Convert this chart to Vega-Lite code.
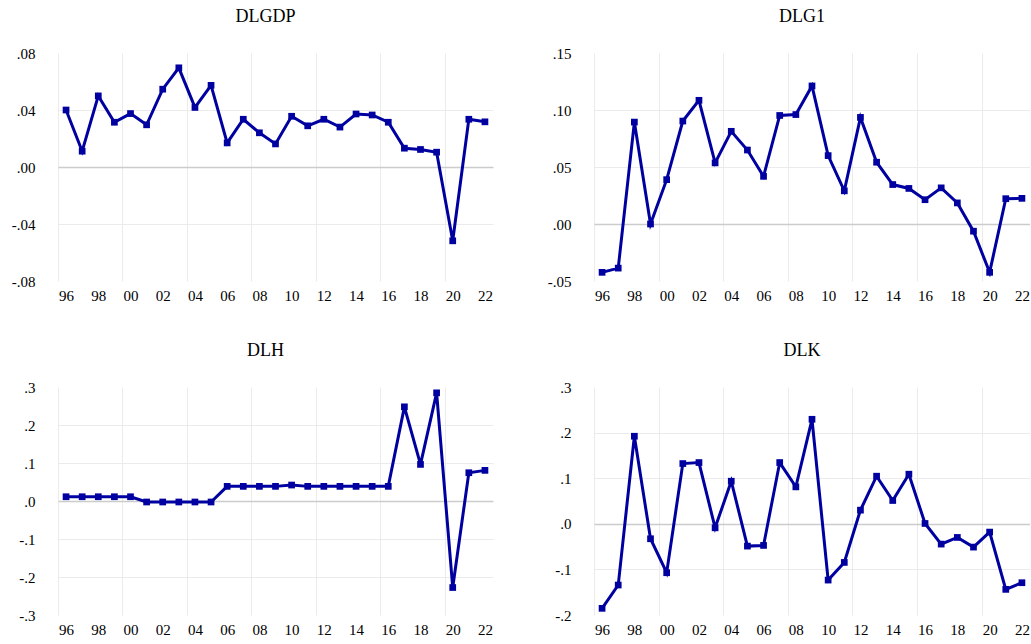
{
  "$schema": "https://vega.github.io/schema/vega-lite/v6.json",
  "padding": {"left": 10, "top": 8, "right": 0, "bottom": 0},
  "background": "white",
  "columns": 2,
  "spacing": {"row": 39, "column": 53},
  "config": {
    "view": {"stroke": null},
    "font": "Liberation Serif",
    "title": {"font": "Liberation Serif", "fontSize": 18, "fontWeight": "normal", "color": "black", "baseline": "alphabetic", "offset": 20, "frame": "group", "anchor": "middle", "dx": -10},
    "axis": {"ticks": false, "domain": false, "labelFont": "Liberation Serif", "labelFontSize": 15, "labelColor": "black", "title": null, "gridWidth": 1},
    "axisY": {"labelPadding": 23, "minExtent": 48, "maxExtent": 48},
    "axisX": {"labelPadding": 7}
  },
  "datasets": {
    "d": [
      {"year": 1996, "DLGDP": 0.0400, "DLG1": -0.0424, "DLH": 0.0112, "DLK": -0.1854},
      {"year": 1997, "DLGDP": 0.0111, "DLG1": -0.0387, "DLH": 0.0112, "DLK": -0.1343},
      {"year": 1998, "DLGDP": 0.0499, "DLG1": 0.0894, "DLH": 0.0112, "DLK": 0.1920},
      {"year": 1999, "DLGDP": 0.0314, "DLG1": 0.0000, "DLH": 0.0112, "DLK": -0.0328},
      {"year": 2000, "DLGDP": 0.0375, "DLG1": 0.0389, "DLH": 0.0112, "DLK": -0.1073},
      {"year": 2001, "DLGDP": 0.0296, "DLG1": 0.0903, "DLH": -0.0026, "DLK": 0.1321},
      {"year": 2002, "DLGDP": 0.0546, "DLG1": 0.1085, "DLH": -0.0026, "DLK": 0.1343},
      {"year": 2003, "DLGDP": 0.0696, "DLG1": 0.0536, "DLH": -0.0026, "DLK": -0.0088},
      {"year": 2004, "DLGDP": 0.0418, "DLG1": 0.0813, "DLH": -0.0026, "DLK": 0.0934},
      {"year": 2005, "DLGDP": 0.0573, "DLG1": 0.0649, "DLH": -0.0026, "DLK": -0.0489},
      {"year": 2006, "DLGDP": 0.0169, "DLG1": 0.0418, "DLH": 0.0385, "DLK": -0.0474},
      {"year": 2007, "DLGDP": 0.0335, "DLG1": 0.0952, "DLH": 0.0385, "DLK": 0.1343},
      {"year": 2008, "DLGDP": 0.0240, "DLG1": 0.0960, "DLH": 0.0385, "DLK": 0.0810},
      {"year": 2009, "DLGDP": 0.0162, "DLG1": 0.1211, "DLH": 0.0385, "DLK": 0.2292},
      {"year": 2010, "DLGDP": 0.0356, "DLG1": 0.0600, "DLH": 0.0420, "DLK": -0.1234},
      {"year": 2011, "DLGDP": 0.0289, "DLG1": 0.0291, "DLH": 0.0385, "DLK": -0.0847},
      {"year": 2012, "DLGDP": 0.0335, "DLG1": 0.0935, "DLH": 0.0385, "DLK": 0.0299},
      {"year": 2013, "DLGDP": 0.0280, "DLG1": 0.0542, "DLH": 0.0385, "DLK": 0.1044},
      {"year": 2014, "DLGDP": 0.0372, "DLG1": 0.0346, "DLH": 0.0385, "DLK": 0.0511},
      {"year": 2015, "DLGDP": 0.0365, "DLG1": 0.0312, "DLH": 0.0385, "DLK": 0.1088},
      {"year": 2016, "DLGDP": 0.0314, "DLG1": 0.0213, "DLH": 0.0385, "DLK": 0.0007},
      {"year": 2017, "DLGDP": 0.0132, "DLG1": 0.0317, "DLH": 0.2478, "DLK": -0.0445},
      {"year": 2018, "DLGDP": 0.0123, "DLG1": 0.0185, "DLH": 0.0963, "DLK": -0.0299},
      {"year": 2019, "DLGDP": 0.0104, "DLG1": -0.0063, "DLH": 0.2846, "DLK": -0.0511},
      {"year": 2020, "DLGDP": -0.0518, "DLG1": -0.0424, "DLH": -0.2277, "DLK": -0.0182},
      {"year": 2021, "DLGDP": 0.0335, "DLG1": 0.0222, "DLH": 0.0744, "DLK": -0.1438},
      {"year": 2022, "DLGDP": 0.0317, "DLG1": 0.0225, "DLH": 0.0806, "DLK": -0.1292}
    ]
  },
  "concat": [
    {
      "title": "DLGDP",
      "width": 435, "height": 228,
      "data": {"name": "d"},
      "mark": {"type": "line", "color": "#0000a0", "strokeWidth": 3, "point": {"shape": "square", "size": 45, "filled": true, "color": "#0000a0", "opacity": 1}},
      "encoding": {
        "x": {"field": "year", "type": "quantitative", "scale": {"domain": [1995.5, 2022.5], "nice": false, "zero": false},
          "axis": {"values": [1995.5, 1996, 1998, 1999.5, 2000, 2002, 2003.5, 2004, 2006, 2007.5, 2008, 2010, 2011.5, 2012, 2014, 2015.5, 2016, 2018, 2019.5, 2020, 2022],
            "labelExpr": "datum.value % 2 == 0 ? slice(toString(datum.value), 2) : ''",
            "gridColor": "#ebebeb",
            "gridOpacity": {"condition": {"test": "datum.value % 1 != 0", "value": 1}, "value": 0}}},
        "y": {"field": "DLGDP", "type": "quantitative", "scale": {"domain": [-0.08, 0.08], "nice": false, "zero": false},
          "axis": {"values": [-0.08, -0.04, 0, 0.04, 0.08],
            "labelExpr": "(datum.value < 0 ? '-' : '') + replace(format(abs(datum.value), '.2f'), '0.', '.')",
            "gridColor": {"condition": {"test": "datum.value == 0", "value": "#cccccc"}, "value": "#ebebeb"},
            "gridWidth": {"condition": {"test": "datum.value == 0", "value": 1.5}, "value": 1},
            "gridOpacity": {"condition": {"test": "abs(datum.value) > 0.079", "value": 0}, "value": 1}}}
      }
    },
    {
      "title": "DLG1",
      "width": 436, "height": 228,
      "data": {"name": "d"},
      "mark": {"type": "line", "color": "#0000a0", "strokeWidth": 3, "point": {"shape": "square", "size": 45, "filled": true, "color": "#0000a0", "opacity": 1}},
      "encoding": {
        "x": {"field": "year", "type": "quantitative", "scale": {"domain": [1995.5, 2022.5], "nice": false, "zero": false},
          "axis": {"values": [1995.5, 1996, 1998, 1999.5, 2000, 2002, 2003.5, 2004, 2006, 2007.5, 2008, 2010, 2011.5, 2012, 2014, 2015.5, 2016, 2018, 2019.5, 2020, 2022],
            "labelExpr": "datum.value % 2 == 0 ? slice(toString(datum.value), 2) : ''",
            "gridColor": "#ebebeb",
            "gridOpacity": {"condition": {"test": "datum.value % 1 != 0", "value": 1}, "value": 0}}},
        "y": {"field": "DLG1", "type": "quantitative", "scale": {"domain": [-0.05, 0.15], "nice": false, "zero": false},
          "axis": {"values": [-0.05, 0, 0.05, 0.10, 0.15],
            "labelExpr": "(datum.value < 0 ? '-' : '') + replace(format(abs(datum.value), '.2f'), '0.', '.')",
            "gridColor": {"condition": {"test": "datum.value == 0", "value": "#cccccc"}, "value": "#ebebeb"},
            "gridWidth": {"condition": {"test": "datum.value == 0", "value": 1.5}, "value": 1},
            "gridOpacity": {"condition": {"test": "datum.value < -0.049 || datum.value > 0.149", "value": 0}, "value": 1}}}
      }
    },
    {
      "title": "DLH",
      "width": 435, "height": 228,
      "data": {"name": "d"},
      "mark": {"type": "line", "color": "#0000a0", "strokeWidth": 3, "point": {"shape": "square", "size": 45, "filled": true, "color": "#0000a0", "opacity": 1}},
      "encoding": {
        "x": {"field": "year", "type": "quantitative", "scale": {"domain": [1995.5, 2022.5], "nice": false, "zero": false},
          "axis": {"values": [1995.5, 1996, 1998, 1999.5, 2000, 2002, 2003.5, 2004, 2006, 2007.5, 2008, 2010, 2011.5, 2012, 2014, 2015.5, 2016, 2018, 2019.5, 2020, 2022],
            "labelExpr": "datum.value % 2 == 0 ? slice(toString(datum.value), 2) : ''",
            "gridColor": "#ebebeb",
            "gridOpacity": {"condition": {"test": "datum.value % 1 != 0", "value": 1}, "value": 0}}},
        "y": {"field": "DLH", "type": "quantitative", "scale": {"domain": [-0.3, 0.3], "nice": false, "zero": false},
          "axis": {"values": [-0.3, -0.2, -0.1, 0, 0.1, 0.2, 0.3],
            "labelExpr": "(datum.value < 0 ? '-' : '') + replace(format(abs(datum.value), '.1f'), '0.', '.')",
            "gridColor": {"condition": {"test": "datum.value == 0", "value": "#cccccc"}, "value": "#ebebeb"},
            "gridWidth": {"condition": {"test": "datum.value == 0", "value": 1.5}, "value": 1},
            "gridOpacity": {"condition": {"test": "abs(datum.value) > 0.29", "value": 0}, "value": 1}}}
      }
    },
    {
      "title": "DLK",
      "width": 436, "height": 228,
      "data": {"name": "d"},
      "mark": {"type": "line", "color": "#0000a0", "strokeWidth": 3, "point": {"shape": "square", "size": 45, "filled": true, "color": "#0000a0", "opacity": 1}},
      "encoding": {
        "x": {"field": "year", "type": "quantitative", "scale": {"domain": [1995.5, 2022.5], "nice": false, "zero": false},
          "axis": {"values": [1995.5, 1996, 1998, 1999.5, 2000, 2002, 2003.5, 2004, 2006, 2007.5, 2008, 2010, 2011.5, 2012, 2014, 2015.5, 2016, 2018, 2019.5, 2020, 2022],
            "labelExpr": "datum.value % 2 == 0 ? slice(toString(datum.value), 2) : ''",
            "gridColor": "#ebebeb",
            "gridOpacity": {"condition": {"test": "datum.value % 1 != 0", "value": 1}, "value": 0}}},
        "y": {"field": "DLK", "type": "quantitative", "scale": {"domain": [-0.2, 0.3], "nice": false, "zero": false},
          "axis": {"values": [-0.2, -0.1, 0, 0.1, 0.2, 0.3],
            "labelExpr": "(datum.value < 0 ? '-' : '') + replace(format(abs(datum.value), '.1f'), '0.', '.')",
            "gridColor": {"condition": {"test": "datum.value == 0", "value": "#cccccc"}, "value": "#ebebeb"},
            "gridWidth": {"condition": {"test": "datum.value == 0", "value": 1.5}, "value": 1},
            "gridOpacity": {"condition": {"test": "datum.value < -0.19 || datum.value > 0.29", "value": 0}, "value": 1}}}
      }
    }
  ]
}
